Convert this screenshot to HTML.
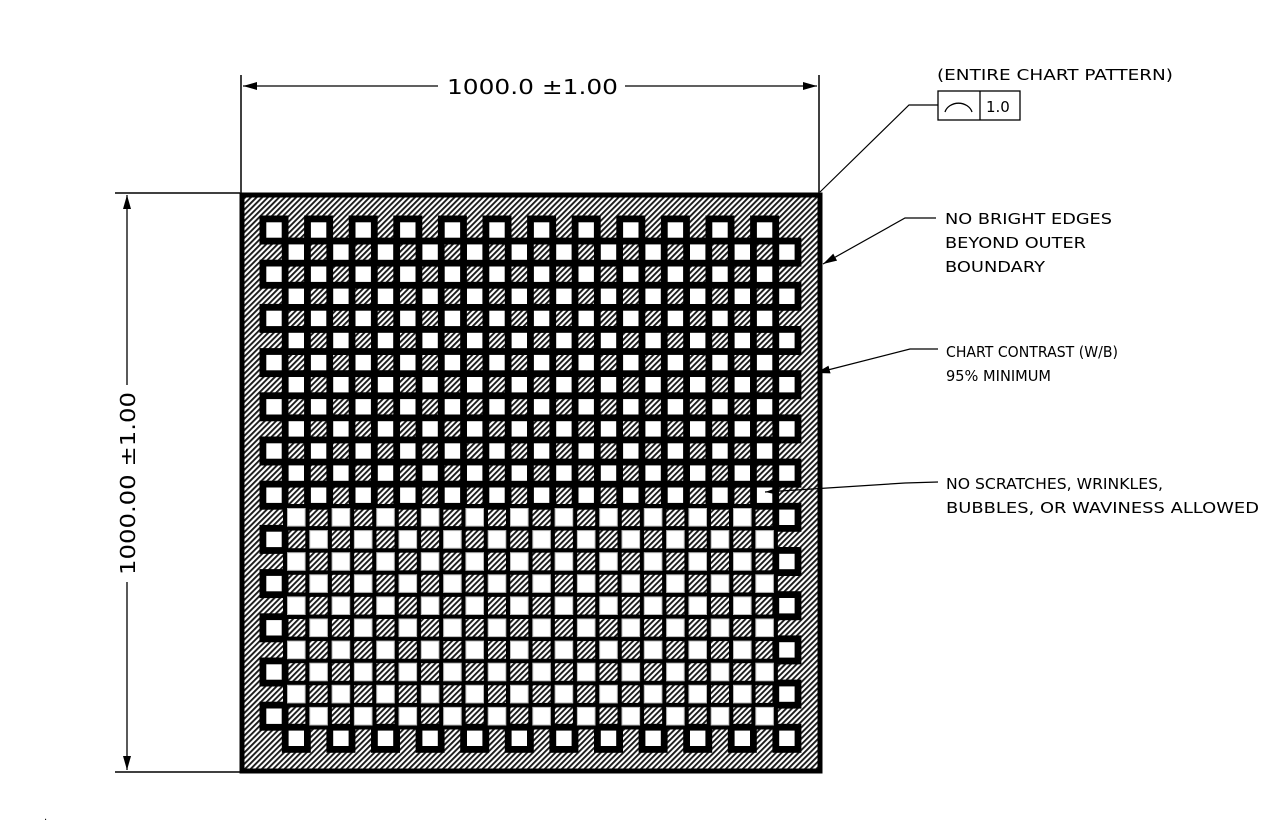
<!DOCTYPE html>
<html><head><meta charset="utf-8"><style>
html,body{margin:0;padding:0;background:#fff;}
svg{display:block;}
text{font-family:"DejaVu Sans","Liberation Sans",sans-serif;fill:#000;}
</style></head><body>
<svg id="s" width="1282" height="829" viewBox="0 0 1282 829" xmlns="http://www.w3.org/2000/svg">
<defs>
<pattern id="h" width="4" height="4" patternUnits="userSpaceOnUse" patternTransform="rotate(45)">
<rect width="4" height="4" fill="#fff"/>
<rect width="1.9" height="4" fill="#1a1a1a"/>
</pattern>
<marker id="a" markerWidth="14" markerHeight="8" refX="14" refY="4" orient="auto" markerUnits="userSpaceOnUse">
<path d="M0,0 L14,4 L0,8 Z" fill="#000"/>
</marker>
</defs>
<rect x="242" y="195" width="578" height="576" fill="url(#h)"/>
<g id="g"></g>
<rect x="242" y="195" width="578" height="576" fill="none" stroke="#000" stroke-width="5"/>
<!-- top dimension -->
<line x1="241" y1="75" x2="241" y2="193" stroke="#000" stroke-width="1.5"/>
<line x1="819" y1="75" x2="819" y2="193" stroke="#000" stroke-width="1.5"/>
<line x1="438" y1="86" x2="243" y2="86" stroke="#000" stroke-width="1.3" marker-end="url(#a)"/>
<line x1="625" y1="86" x2="817" y2="86" stroke="#000" stroke-width="1.3" marker-end="url(#a)"/>
<text x="447" y="94" font-size="20" textLength="171" lengthAdjust="spacingAndGlyphs">1000.0  ±1.00</text>
<!-- left dimension -->
<line x1="115" y1="193" x2="240" y2="193" stroke="#000" stroke-width="1.5"/>
<line x1="115" y1="772" x2="240" y2="772" stroke="#000" stroke-width="1.5"/>
<line x1="127" y1="385" x2="127" y2="195" stroke="#000" stroke-width="1.3" marker-end="url(#a)"/>
<line x1="127" y1="582" x2="127" y2="770" stroke="#000" stroke-width="1.3" marker-end="url(#a)"/>
<text transform="translate(135,575) rotate(-90)" font-size="20" textLength="183" lengthAdjust="spacingAndGlyphs">1000.00  ±1.00</text>
<!-- callouts -->
<text x="937" y="80" font-size="15" textLength="236" lengthAdjust="spacingAndGlyphs">(ENTIRE CHART PATTERN)</text>
<rect x="938" y="91" width="82" height="29" fill="#fff" stroke="#000" stroke-width="1.3"/>
<line x1="980" y1="91" x2="980" y2="120" stroke="#000" stroke-width="1.3"/>
<path d="M945,112 A14,12 0 0 1 972,112" fill="none" stroke="#000" stroke-width="1.3"/>
<text x="986" y="112" font-size="15">1.0</text>
<polyline points="938,105 909,105 820,192" fill="none" stroke="#000" stroke-width="1.2"/>
<polyline points="936,218 905,218 823,264" fill="none" stroke="#000" stroke-width="1.2" marker-end="url(#a)"/>
<polyline points="938,349 910,349 816,373" fill="none" stroke="#000" stroke-width="1.2" marker-end="url(#a)"/>
<polyline points="938,482 905,483 765,492" fill="none" stroke="#000" stroke-width="1.2" marker-end="url(#a)"/>
<text x="945" y="224" font-size="15" textLength="167" lengthAdjust="spacingAndGlyphs">NO BRIGHT EDGES</text>
<text x="945" y="248" font-size="15" textLength="141" lengthAdjust="spacingAndGlyphs">BEYOND OUTER</text>
<text x="945" y="272" font-size="15" textLength="100" lengthAdjust="spacingAndGlyphs">BOUNDARY</text>
<text x="946" y="357" font-size="15" textLength="172" lengthAdjust="spacingAndGlyphs">CHART CONTRAST (W/B)</text>
<text x="946" y="381" font-size="15" textLength="105" lengthAdjust="spacingAndGlyphs">95% MINIMUM</text>
<text x="946" y="489" font-size="15" textLength="217" lengthAdjust="spacingAndGlyphs">NO SCRATCHES, WRINKLES,</text>
<text x="946" y="513" font-size="15" textLength="313" lengthAdjust="spacingAndGlyphs">BUBBLES, OR WAVINESS ALLOWED</text>
<text x="44" y="820" font-size="10">.</text>
</svg>
<script>
var g=document.getElementById('g'),b='',w='';
for(var r=0;r<24;r++)for(var c=0;c<24;c++){if((r+c)%2)continue;
var x=266+22.3*c,y=222+22.1*r;
var thin=(r>=13&&c>0&&c<23&&r<23);
var s,t;
if(thin){s=17.6;t=4.5;x-=0.8;y-=0.8;}else{x+=0.3;y+=0.3;s=15.4;t=6.8;}
b+='<rect x="'+(x-t)+'" y="'+(y-t)+'" width="'+(s+2*t)+'" height="'+(s+2*t)+'" fill="#000"/>';
w+='<rect x="'+x+'" y="'+y+'" width="'+s+'" height="'+s+'" fill="#fff"'+(thin?' stroke="#bbb" stroke-width="1"':'')+'/>';}
g.innerHTML=b+w;
</script>
</body></html>
